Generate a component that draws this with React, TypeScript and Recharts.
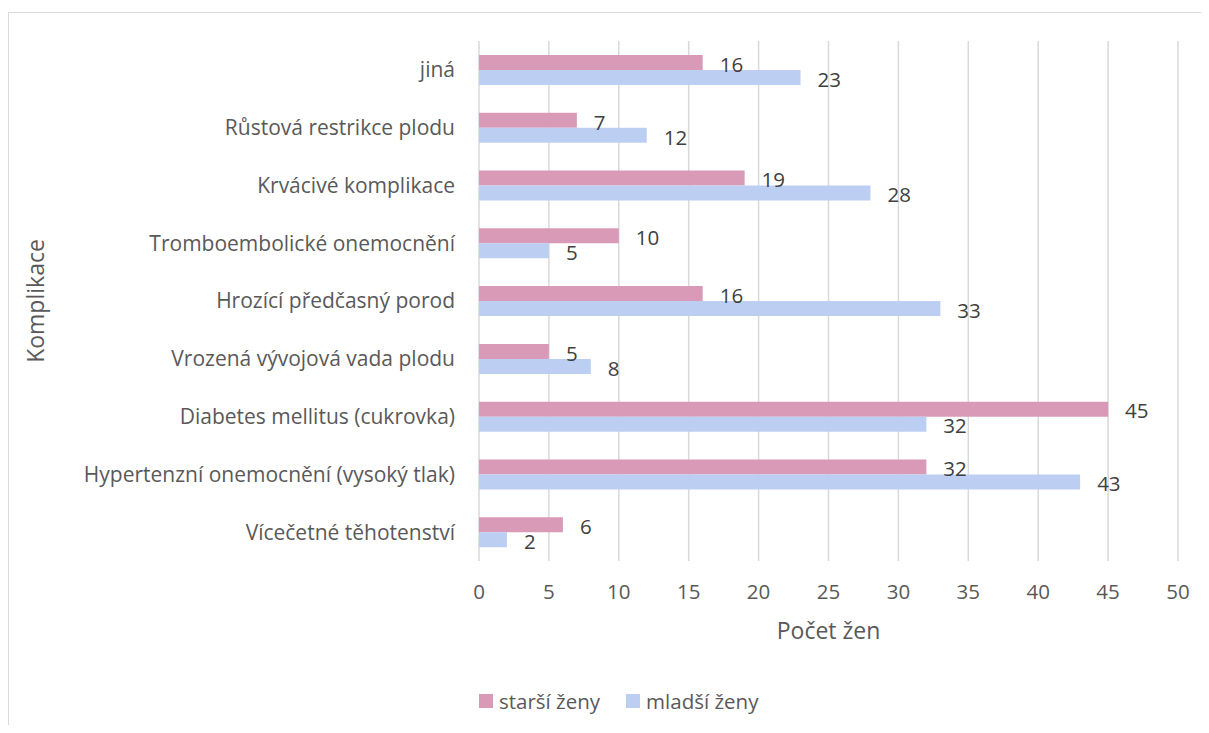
import React from 'react';
import { BarChart, Bar, XAxis, YAxis, CartesianGrid, LabelList } from 'recharts';

// complications, listed top to bottom as drawn
const categories = [
  'jiná',
  'Růstová restrikce plodu',
  'Krvácivé komplikace',
  'Tromboembolické onemocnění',
  'Hrozící předčasný porod',
  'Vrozená vývojová vada plodu',
  'Diabetes mellitus (cukrovka)',
  'Hypertenzní onemocnění (vysoký tlak)',
  'Vícečetné těhotenství',
];
const starsiZeny = [16, 7, 19, 10, 16, 5, 45, 32, 6];
const mladsiZeny = [23, 12, 28, 5, 33, 8, 32, 43, 2];
const xTicks = [0, 5, 10, 15, 20, 25, 30, 35, 40, 45, 50];

const data = categories.map((name, i) => ({
  name,
  starsi: starsiZeny[i],
  mladsi: mladsiZeny[i],
}));

const FONT = '"Open Sans", sans-serif';
const FS = 20.5;
const TITLE_FS = 23;
const PINK = '#D99AB8';
const BLUE = '#BCCFF3';

const YTitle = ({ viewBox }: any) => {
  const cx = 26;
  const cy = viewBox.y + viewBox.height / 2;
  return (
    <text
      x={cx}
      y={cy}
      transform={`rotate(-90, ${cx}, ${cy})`}
      textAnchor="middle"
      dominantBaseline="central"
      fill="#595959"
      fontSize={TITLE_FS}
      fontFamily={FONT}
    >
      Komplikace
    </text>
  );
};

const XTitle = ({ viewBox }: any) => (
  <text
    x={viewBox.x + viewBox.width / 2}
    y={626}
    textAnchor="middle"
    fill="#595959"
    fontSize={TITLE_FS}
    fontFamily={FONT}
  >
    Počet žen
  </text>
);

const legendItems = [
  { label: 'starší ženy', color: PINK },
  { label: 'mladší ženy', color: BLUE },
];

export default function App() {
  return (
    <div
      style={{
        position: 'relative',
        top: 4,
        width: 1201,
        height: 717,
        borderTop: '1px solid #d9d9d9',
        borderLeft: '1px solid #d9d9d9',
        boxSizing: 'border-box',
      }}
    >
      <BarChart
        width={1200}
        height={716}
        data={data}
        layout="vertical"
        margin={{ top: 28, right: 31, bottom: 78, left: 0 }}
        barSize={15}
        barGap={0}
      >
        <CartesianGrid horizontal={false} stroke="#d9d9d9" strokeWidth={1.5} />
        <XAxis
          type="number"
          domain={[0, 50]}
          ticks={xTicks}
          axisLine={false}
          tickLine={false}
          tickMargin={17}
          height={90}
          tick={{ fill: '#595959', fontSize: FS, fontFamily: FONT }}
          label={<XTitle />}
        />
        <YAxis
          type="category"
          dataKey="name"
          width={470}
          axisLine={false}
          tickLine={false}
          tickMargin={18}
          interval={0}
          tick={{ fill: '#595959', fontSize: 21, fontFamily: FONT }}
          label={<YTitle />}
        />
        <Bar dataKey="starsi" name="starší ženy" fill={PINK} isAnimationActive={false}>
          <LabelList
            dataKey="starsi"
            position="right"
            offset={17}
            dy={2}
            fill="#404040"
            fontSize={FS}
            fontFamily={FONT}
          />
        </Bar>
        <Bar dataKey="mladsi" name="mladší ženy" fill={BLUE} isAnimationActive={false}>
          <LabelList
            dataKey="mladsi"
            position="right"
            offset={17}
            dy={2}
            fill="#404040"
            fontSize={FS}
            fontFamily={FONT}
          />
        </Bar>
      </BarChart>
      <div
        style={{
          position: 'absolute',
          left: 470,
          top: 674,
          height: 28,
          display: 'flex',
          alignItems: 'center',
          fontFamily: FONT,
          fontSize: FS,
          color: '#595959',
          whiteSpace: 'nowrap',
        }}
      >
        {legendItems.map((item, i) => (
          <React.Fragment key={item.label}>
            <span style={{ width: 14, height: 14, background: item.color, marginRight: 6 }} />
            <span style={{ marginRight: i === 0 ? 26 : 0 }}>{item.label}</span>
          </React.Fragment>
        ))}
      </div>
    </div>
  );
}
